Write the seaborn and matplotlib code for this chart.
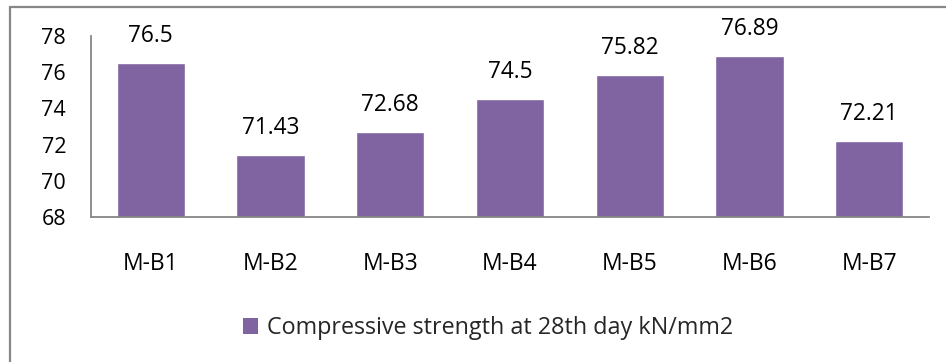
import matplotlib
matplotlib.use("Agg")
import matplotlib.pyplot as plt
from matplotlib.patches import Patch
from matplotlib.lines import Line2D
import seaborn as sns
import pandas as pd

categories = ["M-B1", "M-B2", "M-B3", "M-B4", "M-B5", "M-B6", "M-B7"]
strength = [76.5, 71.43, 72.68, 74.5, 75.82, 76.89, 72.21]
value_labels = ["76.5", "71.43", "72.68", "74.5", "75.82", "76.89", "72.21"]
y_ticks = [68, 70, 72, 74, 76, 78]
series_name = "Compressive strength at 28th day kN/mm2"

sns.set_style("white")
plt.rcParams["font.family"] = ["Open Sans", "DejaVu Sans"]

W, H = 946, 362
fig = plt.figure(figsize=(W / 100, H / 100), dpi=100)
fig.patch.set_facecolor("white")

ax = fig.add_axes([91 / W, 1 - 217 / H, (929 - 91) / W, (217 - 36) / H])
df = pd.DataFrame({"mix": categories, "strength": strength})
bar_color = "#8064A2"
sns.barplot(data=df, x="mix", y="strength", color=bar_color, saturation=1,
            width=0.57, ax=ax)

ax.set_ylim(68, 78)
ax.set_yticks(y_ticks)
ax.set_xlabel("")
ax.set_ylabel("")
for side in ("top", "right"):
    ax.spines[side].set_visible(False)
for side in ("left", "bottom"):
    ax.spines[side].set_color("#868686")
    ax.spines[side].set_linewidth(1.3)
ax.tick_params(axis="y", length=0, pad=18, labelsize=15.5, labelcolor="black")
ax.tick_params(axis="x", length=0, pad=25, labelsize=16.5, labelcolor="black")

ax.bar_label(ax.containers[0], labels=value_labels, padding=11, fontsize=16.3,
             color="black")

legend_handle = Patch(facecolor=bar_color, edgecolor="none")
fig.legend(handles=[legend_handle], labels=[series_name], loc="center",
           bbox_to_anchor=(488 / W, 1 - 328 / H), frameon=False, fontsize=16.8,
           handlelength=0.65, handleheight=0.65, handletextpad=0.4)

# chart frame border (left and top edges)
fig.add_artist(Line2D([10 / W, 10 / W], [0, 1 - 7 / H], color="#878787", lw=1.6,
                      transform=fig.transFigure))
fig.add_artist(Line2D([10 / W, 1], [1 - 7 / H, 1 - 7 / H], color="#878787", lw=1.6,
                      transform=fig.transFigure))

fig.savefig("out.png", dpi=100)
